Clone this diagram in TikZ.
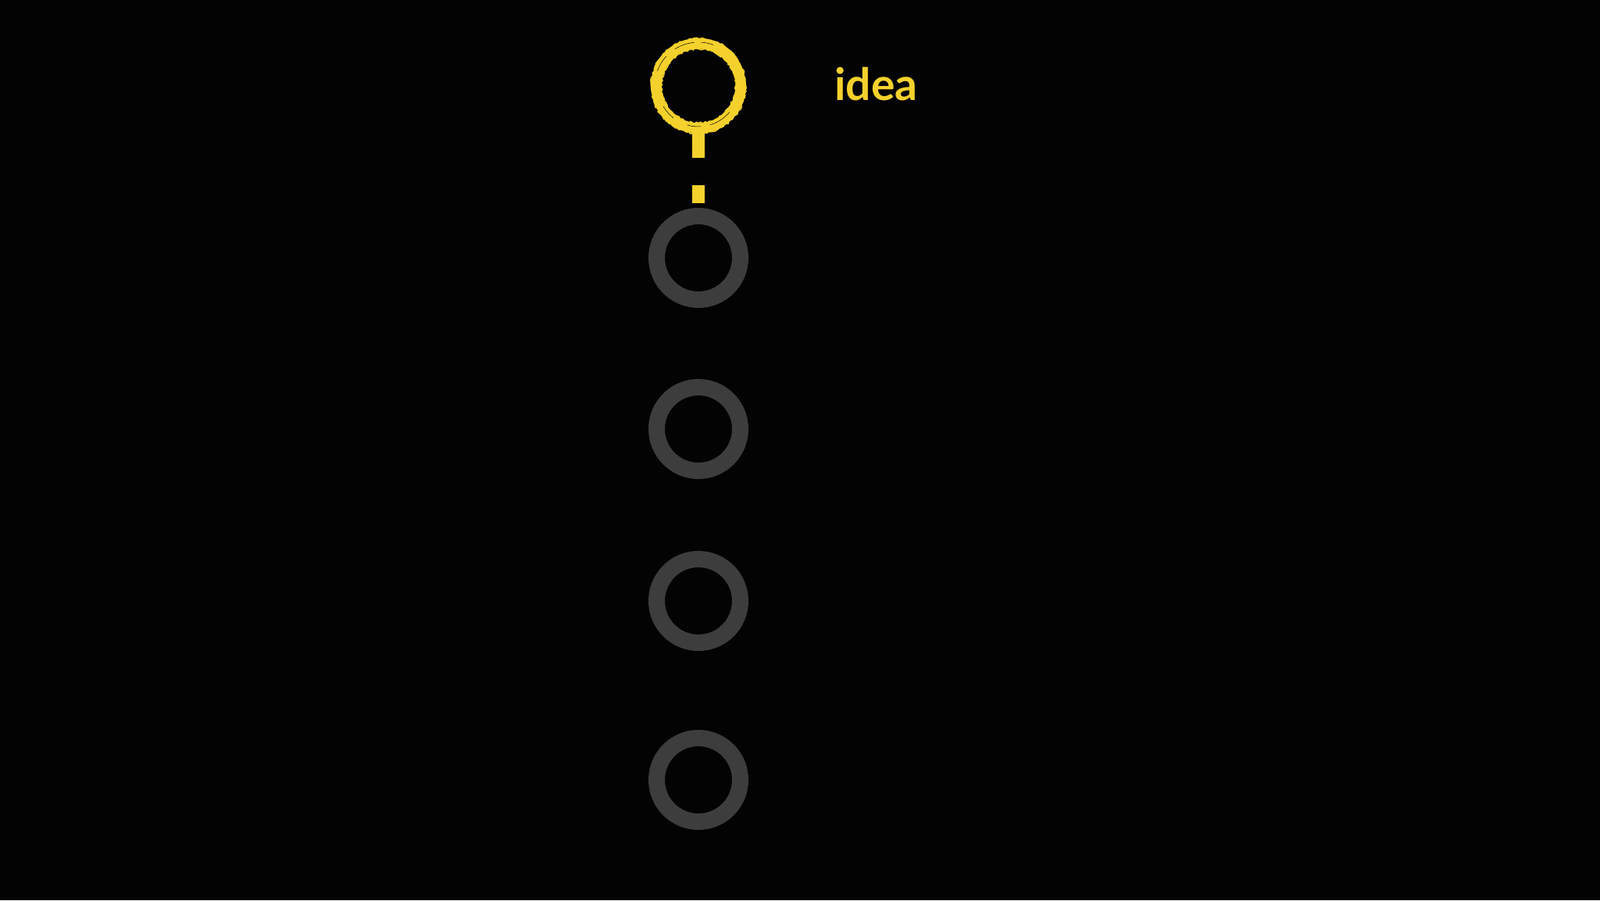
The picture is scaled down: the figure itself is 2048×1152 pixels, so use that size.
\documentclass[tikz,border=0pt]{standalone}
\usepackage{fontspec}
\usetikzlibrary{decorations.pathmorphing}
\newfontfamily\labelfont{Lato}
\definecolor{bg}{HTML}{030303}
\definecolor{ideayellow}{HTML}{F4D12C}
\definecolor{ringgray}{HTML}{3D3D3D}
\begin{document}
\begin{tikzpicture}[x=1pt,y=-1pt,
  grayring/.style={circle,draw=ringgray,line width=21,minimum size=107,inner sep=0,outer sep=0},
  yellowring/.style={circle,draw=ideayellow,line width=13,minimum size=108,inner sep=0,outer sep=0},
  rough/.style={draw=ideayellow,line width=1.6,decorate,decoration={random steps,segment length=2.5,amplitude=1.1}},
  stem/.style={draw=ideayellow,line width=16.5,dash pattern=on 38 off 35 on 23 off 200},
  labeltext/.style={text=ideayellow,font=\labelfont\bfseries\fontsize{57}{62}\selectfont,anchor=base west,inner sep=0}]
\fill[bg] (0,0) rectangle (2048,1152);
\useasboundingbox (0,0) rectangle (2048,1152);
\node[yellowring] (y) at (894,110) {};
% brush texture
\draw[rough] (894,110) circle[radius=60.5];
\draw[rough] (894,110) circle[radius=47.5];
\draw[ideayellow,line width=2.5] (894,110) ++(200:60) arc[start angle=200,end angle=320,radius=60];
\draw[bg,line width=0.5,dash pattern=on 30 off 12 on 18 off 20] (894,110) ++(40:52) arc[start angle=40,end angle=150,radius=52];
\draw[bg,line width=0.5,dash pattern=on 22 off 15 on 26 off 9] (894,110) ++(200:56) arc[start angle=200,end angle=290,radius=56];
\node[grayring] (g1) at (894,330) {};
\node[grayring] (g2) at (894,549) {};
\node[grayring] (g3) at (894,769) {};
\node[grayring] (g4) at (894,998) {};
\draw[stem] (y.south) -- (g1.north);
\node[labeltext] (lab) at (1068,128) {idea};
\end{tikzpicture}
\end{document}
